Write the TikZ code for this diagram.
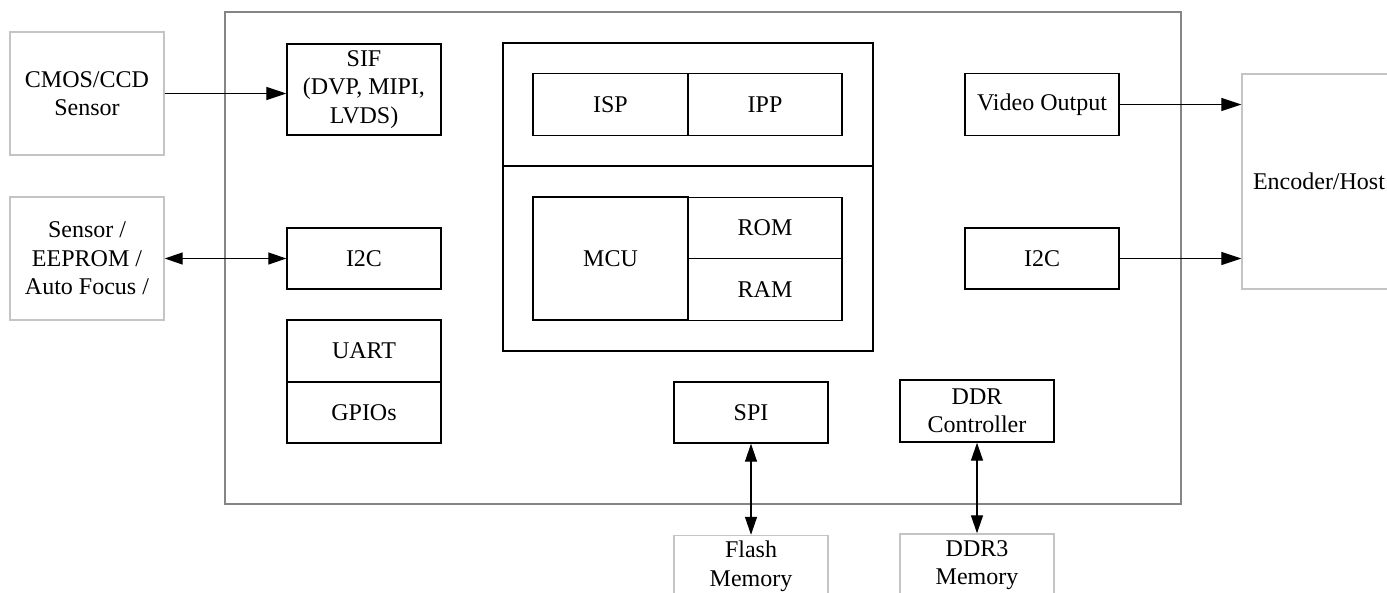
\documentclass[tikz,border=0pt]{standalone}
\usepackage{fontspec}
\setmainfont{Liberation Serif}
\usetikzlibrary{arrows.meta}
\definecolor{chipgray}{HTML}{858585}
\definecolor{extgray}{HTML}{C4C4C4}
\tikzset{
  blk/.style={draw=black, line width=1.4pt, inner sep=0pt, align=center,
    font=\fontsize{24}{28.5}\selectfont},
  ext/.style={blk, draw=extgray},
  arr/.style={line width=1.3pt, -{Triangle[length=20pt,width=13pt]}},
  darr/.style={line width=1.3pt, {Triangle[length=18pt,width=12pt]}-{Triangle[length=18pt,width=12pt]}}
}
\begin{document}
\begin{tikzpicture}[x=1pt,y=-1pt]
\useasboundingbox (0,0) rectangle (1387,592);
\clip (0,0) rectangle (1387,592);
% chip outline
\node[blk, draw=chipgray, minimum width=956, minimum height=492] (chip) at (703,258) {};
% external boxes
\node[ext, minimum width=154, minimum height=123] (cmos) at (87,93.5) {CMOS/CCD\\Sensor};
\node[ext, minimum width=154, minimum height=123] (sens) at (87,258.5) {Sensor /\\EEPROM /\\Auto Focus /};
\node[ext, minimum width=154, minimum height=215] (enc) at (1319,181.5) {Encoder/Host};
\node[ext, minimum width=154, minimum height=62] (flash) at (751,566.5) {Flash\\Memory};
\node[ext, minimum width=154, minimum height=62] (ddrm) at (977,565) {DDR3\\Memory};
% left column
\node[blk, minimum width=154, minimum height=91] (sif) at (364,89.5) {SIF\\(DVP, MIPI,\\LVDS)};
\node[blk, minimum width=154, minimum height=61] (i2cl) at (364,258.5) {I2C};
\node[blk, minimum width=154, minimum height=62] (uart) at (364,351) {UART};
\node[blk, minimum width=154, minimum height=61] (gpio) at (364,412.5) {GPIOs};
% center block
\node[blk, minimum width=370, minimum height=123] (ctop) at (688,104.5) {};
\node[blk, minimum width=370, minimum height=185] (cbot) at (688,258.5) {};
\node[blk, minimum width=155, minimum height=62] (isp) at (610.5,104.5) {ISP};
\node[blk, minimum width=154, minimum height=62] (ipp) at (765,104.5) {IPP};
\node[blk, minimum width=155, minimum height=123] (mcu) at (610.5,258.5) {MCU};
\node[blk, minimum width=154, minimum height=61.5] (rom) at (765,228) {ROM};
\node[blk, minimum width=154, minimum height=61.5] (ram) at (765,289.5) {RAM};
% bottom
\node[blk, minimum width=154, minimum height=61] (spi) at (751,412.5) {SPI};
\node[blk, minimum width=154, minimum height=62] (ddrc) at (977,411) {DDR\\Controller};
% right column
\node[blk, minimum width=154, minimum height=62] (vout) at (1042,104.5) {Video Output};
\node[blk, minimum width=154, minimum height=61] (i2cr) at (1042,258.5) {I2C};
% connectors
\draw[arr] (cmos.east) -- (cmos.east -| sif.west);
\draw[darr] (sens.east) -- (i2cl.west);
\draw[arr] (vout.east) -- (vout.east -| enc.west);
\draw[arr] (i2cr.east) -- (i2cr.east -| enc.west);
\draw[darr] (spi.south) -- (spi.south |- flash.north);
\draw[darr] (ddrc.south) -- (ddrc.south |- ddrm.north);
\end{tikzpicture}
\end{document}
